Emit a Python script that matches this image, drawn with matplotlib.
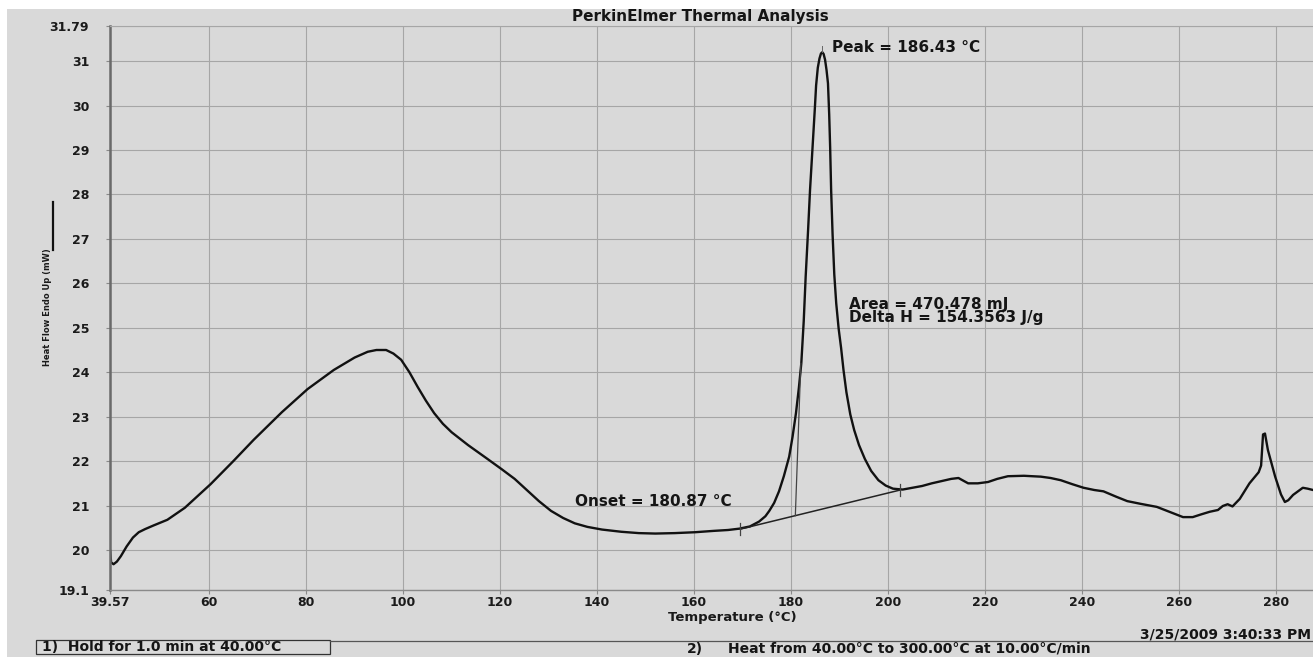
import numpy as np
import matplotlib.pyplot as plt
from matplotlib.patches import Rectangle
from matplotlib.lines import Line2D

plt.rcParams['font.family'] = ['DejaVu Sans']
plt.rcParams['font.weight'] = 'bold'

# DSC heating scan, heat flow (mW) vs temperature (C)
temp = [39.6, 39.8, 40.3, 41.0, 41.8, 43.0, 44.3, 45.5, 46.8, 48.5, 51.4, 55.0,
        60.3, 65.0, 69.2, 75.0, 80.3, 85.7, 90.0, 92.7, 94.5, 96.5, 98.0, 99.6,
        101.3, 103.0, 104.7, 106.4, 108.2, 110.0, 113.4, 117.0, 120.3, 123.0,
        125.5, 128.0, 130.5, 133.0, 135.4, 138.0, 141.0, 145.0, 148.6, 152.0,
        156.0, 160.2, 164.0, 167.0, 169.3, 171.5, 173.4, 174.7, 175.5, 176.5,
        177.5, 178.5, 179.6, 180.3, 181.0, 181.6, 182.1, 182.6, 183.0, 183.5,
        183.9, 184.5, 184.9, 185.15, 185.5, 185.85, 186.15, 186.43, 186.7, 187.0,
        187.3, 187.6, 187.85, 188.05, 188.25, 188.55, 188.9, 189.3, 189.8, 190.3,
        190.8, 191.4, 192.2, 193.0, 194.0, 195.2, 196.5, 198.0, 199.5, 201.0,
        203.0, 205.0, 207.0, 209.0, 211.0, 213.0, 214.5, 216.5, 218.5, 220.6,
        222.5, 224.7, 228.0, 231.5, 233.5, 235.6, 238.0, 240.3, 242.5, 244.4,
        247.0, 249.3, 252.0, 255.4, 258.0, 260.8, 262.8, 264.5, 266.3, 268.0,
        269.0, 270.0, 271.0, 272.5, 274.5, 276.4, 276.9, 277.3, 277.7, 278.3,
        279.8, 281.0, 281.8, 282.5, 283.5, 285.5, 286.5, 287.6]
heat_flow = [19.98, 19.72, 19.68, 19.74, 19.86, 20.08, 20.28, 20.40, 20.47, 20.55,
             20.68, 20.95, 21.48, 22.00, 22.48, 23.10, 23.62, 24.05, 24.33, 24.46,
             24.50, 24.50, 24.42, 24.28, 24.00, 23.67, 23.36, 23.08, 22.84, 22.65,
             22.36, 22.08, 21.82, 21.60, 21.35, 21.10, 20.88, 20.72, 20.60, 20.52,
             20.46, 20.41, 20.38, 20.37, 20.38, 20.40, 20.43, 20.45, 20.48, 20.53,
             20.64, 20.76, 20.88, 21.06, 21.32, 21.66, 22.10, 22.55, 23.08, 23.65,
             24.20, 25.15, 26.15, 27.20, 28.10, 29.20, 29.95, 30.45, 30.85, 31.06,
             31.17, 31.20, 31.16, 31.03, 30.80, 30.50, 29.80, 29.05, 28.10, 27.10,
             26.20, 25.55, 24.98, 24.55, 24.05, 23.55, 23.05, 22.70, 22.36, 22.05,
             21.78, 21.57, 21.45, 21.38, 21.36, 21.40, 21.44, 21.50, 21.55, 21.60,
             21.62, 21.50, 21.50, 21.53, 21.60, 21.66, 21.67, 21.65, 21.62, 21.57,
             21.48, 21.40, 21.35, 21.32, 21.20, 21.10, 21.04, 20.97, 20.86, 20.74,
             20.74, 20.80, 20.86, 20.90, 20.99, 21.03, 20.98, 21.15, 21.50, 21.75,
             21.90, 22.60, 22.62, 22.25, 21.65, 21.25, 21.08, 21.12, 21.24, 21.40,
             21.38, 21.35]

x_ticks = [39.57, 60, 80, 100, 120, 140, 160, 180, 200, 220, 240, 260, 280]
x_labels = ['39.57', '60', '80', '100', '120', '140', '160', '180', '200',
            '220', '240', '260', '280']
y_ticks = [19.1, 20, 21, 22, 23, 24, 25, 26, 27, 28, 29, 30, 31, 31.79]
y_labels = ['19.1', '20', '21', '22', '23', '24', '25', '26', '27', '28',
            '29', '30', '31', '31.79']

# peak integration results
baseline_t = [169.5, 202.5]
baseline_hf = [20.47, 21.35]
onset_t = 180.87
peak_t = 186.43
peak_hf = 31.2
tangent_top = (182.0, 24.2)
area_mj = 470.478
delta_h = 154.3563

W, H = 1313, 657
paper = '#d9d9d9'
grid_c = '#a6a6a6'
ink = '#151515'

fig = plt.figure(figsize=(W / 100, H / 100), dpi=100, facecolor=paper)
ax = fig.add_axes([110 / W, 67 / H, 1 - 110 / W, (590 - 26) / H])
ax.set_facecolor(paper)

ax.plot(temp, heat_flow, color='#111111', lw=1.7, solid_joinstyle='round')

# baseline with end ticks
ax.plot(baseline_t, baseline_hf, color='#222222', lw=1.1)
for t, hf in zip(baseline_t, baseline_hf):
    ax.plot([t, t], [hf - 0.13, hf + 0.13], color='#444444', lw=0.9)

# onset tangent
onset_hf = np.interp(onset_t, baseline_t, baseline_hf)
ax.plot([onset_t, tangent_top[0]], [onset_hf, tangent_top[1]],
        color='#444444', lw=0.9)
ax.plot([peak_t, peak_t], [peak_hf, peak_hf + 0.15], color='#666666', lw=0.7)

ax.text(188.4, 31.3, f'Peak = {peak_t:.2f} \u00b0C', fontsize=11,
        va='center', ha='left', color=ink)
ax.text(135.5, 21.1, f'Onset = {onset_t:.2f} \u00b0C', fontsize=11,
        va='center', ha='left', color=ink)
ax.text(192.0, 25.52, f'Area = {area_mj:.3f} mJ', fontsize=11,
        va='center', ha='left', color=ink)
ax.text(192.0, 25.24, f'Delta H = {delta_h:.4f} J/g', fontsize=11,
        va='center', ha='left', color=ink)

ax.set_xlim(39.57, 287.6)
ax.set_ylim(19.1, 31.79)
ax.set_xticks(x_ticks)
ax.set_xticklabels(x_labels)
ax.set_yticks(y_ticks)
ax.set_yticklabels(y_labels)
ax.grid(True, color=grid_c, lw=0.8)
ax.set_axisbelow(True)
ax.tick_params(direction='out', length=3, width=0.8, color='#8a8a8a',
               labelsize=9, labelcolor='#1a1a1a')
ax.tick_params(axis='y', pad=12)
ax.tick_params(axis='x', pad=1.5)

ax.spines['right'].set_visible(False)
ax.spines['left'].set_color('#6a6a6a')
ax.spines['left'].set_linewidth(1.8)
ax.spines['bottom'].set_color('#8a8a8a')
ax.spines['bottom'].set_linewidth(1.0)
ax.spines['top'].set_color(grid_c)
ax.spines['top'].set_linewidth(0.8)

# page furniture
fig.patches.append(Rectangle((0, 1 - 9 / H), 1, 9 / H, transform=fig.transFigure,
                             facecolor='white', edgecolor='none', zorder=0))
fig.patches.append(Rectangle((0, 0), 7 / W, 1, transform=fig.transFigure,
                             facecolor='white', edgecolor='none', zorder=0))

fig.text(700 / W, 1 - 17 / H, 'PerkinElmer Thermal Analysis', fontsize=11,
         ha='center', va='center', color=ink)
fig.text(732 / W, 1 - 617 / H, 'Temperature (\u00b0C)', fontsize=9.5,
         ha='center', va='center', color='#1a1a1a')
fig.text(48 / W, 1 - 307 / H, 'Heat Flow Endo Up (mW)', fontsize=6,
         rotation=90, ha='center', va='center', color='#1a1a1a')
fig.add_artist(Line2D([53 / W, 53 / W], [1 - 202 / H, 1 - 250 / H],
                      transform=fig.transFigure, color='#111111', lw=1.6))

fig.patches.append(Rectangle((36 / W, 1 - 654 / H), (330 - 36) / W, 14 / H,
                             transform=fig.transFigure, facecolor='none',
                             edgecolor='#333333', lw=0.9))
fig.add_artist(Line2D([330 / W, 1], [1 - 641 / H, 1 - 641 / H],
                      transform=fig.transFigure, color='#555555', lw=0.9))
fig.text(42 / W, 1 - 647 / H, '1)  Hold for 1.0 min at 40.00\u00b0C', fontsize=10,
         ha='left', va='center', color=ink)
fig.text(687 / W, 1 - 649 / H, '2)', fontsize=10,
         ha='left', va='center', color=ink)
fig.text(728 / W, 1 - 649 / H, 'Heat from 40.00\u00b0C to 300.00\u00b0C at 10.00\u00b0C/min',
         fontsize=10, ha='left', va='center', color=ink)
fig.text(1311 / W, 1 - 634 / H, '3/25/2009 3:40:33 PM', fontsize=10,
         ha='right', va='center', color=ink)

fig.savefig('out.png', dpi=100, facecolor=fig.get_facecolor())
